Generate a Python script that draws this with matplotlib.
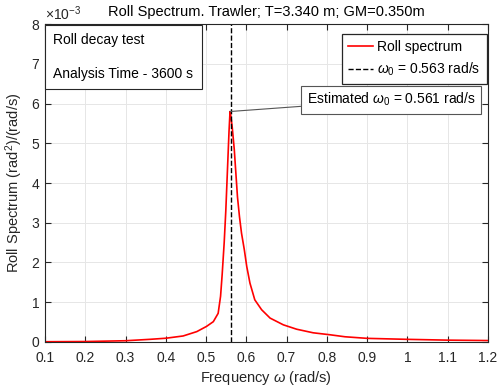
import numpy as np
import matplotlib
matplotlib.use('Agg')
import matplotlib.pyplot as plt
from matplotlib.ticker import ScalarFormatter, FixedLocator, FuncFormatter

# spectrum (values in units of 1e-3 rad^2/(rad/s))
freq = [0.10, 0.20, 0.30, 0.36, 0.40, 0.443, 0.477, 0.501, 0.518, 0.530, 0.536,
        0.540, 0.545, 0.549, 0.553, 0.557, 0.5595, 0.562, 0.565, 0.570, 0.574,
        0.578, 0.583, 0.588, 0.595, 0.601, 0.609, 0.621, 0.638, 0.659, 0.692,
        0.725, 0.766, 0.808, 0.845, 0.90, 1.00, 1.10, 1.20]
spec_e3 = [0.005, 0.01, 0.03, 0.065, 0.093, 0.15, 0.26, 0.39, 0.51, 0.72, 1.15,
           1.70, 2.50, 3.30, 4.30, 5.30, 5.80, 5.65, 5.40, 4.85, 4.25,
           3.65, 3.15, 2.74, 2.32, 1.90, 1.48, 1.06, 0.81, 0.60, 0.43,
           0.32, 0.23, 0.18, 0.13, 0.09, 0.065, 0.045, 0.035]
w0_theory = 0.563
w0_est = 0.561
peak_val = 5.80e-3
xticks = [0.1, 0.2, 0.3, 0.4, 0.5, 0.6, 0.7, 0.8, 0.9, 1.0, 1.1, 1.2]
yticks = [0, 1e-3, 2e-3, 3e-3, 4e-3, 5e-3, 6e-3, 7e-3, 8e-3]

plt.rcParams['font.family'] = ['Liberation Sans', 'DejaVu Sans']
plt.rcParams['font.size'] = 10
plt.rcParams['mathtext.fontset'] = 'custom'
plt.rcParams['mathtext.it'] = 'Liberation Sans:italic'
plt.rcParams['mathtext.rm'] = 'Liberation Sans'

fig = plt.figure(figsize=(5.03, 3.89), dpi=100)
ax = fig.add_axes([0.0895, 0.121, 0.8805, 0.817])

spec = np.array(spec_e3) * 1e-3
ax.plot(freq, spec, color='red', lw=1.2, label='Roll spectrum', solid_joinstyle='round')
ax.axvline(w0_theory, color='black', ls='--', lw=1.0, label=r'$\omega_0$ = 0.563 rad/s')

ax.set_xlim(0.1, 1.2)
ax.set_ylim(0, 8e-3)
ax.xaxis.set_major_locator(FixedLocator(xticks))
ax.xaxis.set_major_formatter(FuncFormatter(lambda v, p: f'{v:g}'))
ax.yaxis.set_major_locator(FixedLocator(yticks))
fmt = ScalarFormatter(useMathText=True)
fmt.set_powerlimits((-2, 2))
ax.yaxis.set_major_formatter(fmt)

edge = '#262626'
for s in ax.spines.values():
    s.set_color(edge)
    s.set_linewidth(0.8)
ax.tick_params(direction='in', length=4, colors=edge, labelcolor=edge, labelsize=10,
               top=True, right=True)
ax.tick_params(axis='x', pad=6.5)
ax.grid(True, color='#e6e6e6', lw=0.7)
ax.set_axisbelow(True)

ax.set_title('Roll Spectrum. Trawler; T=3.340 m; GM=0.350m', fontsize=10.5, color='black', pad=6)
ax.set_xlabel(r'Frequency $\omega$ (rad/s)', fontsize=10.5, color=edge, labelpad=3)
ax.set_ylabel(r'Roll Spectrum (rad$^2$)/(rad/s)', fontsize=10.5, color=edge)

leg = ax.legend(loc='upper right', bbox_to_anchor=(0.9977, 0.9686), borderaxespad=0,
                fancybox=False, framealpha=1, edgecolor=edge, fontsize=10,
                handlelength=1.8, handletextpad=0.3, borderpad=0.45, labelspacing=0.45)
leg.get_frame().set_linewidth(0.9)

ax.text(0.019, 0.972, 'Roll decay test\n\nAnalysis Time - 3600 s', transform=ax.transAxes,
        ha='left', va='top', fontsize=10, linespacing=1.25,
        bbox=dict(boxstyle='square,pad=0.6', fc='white', ec=edge, lw=0.8))

ax.annotate(r'Estimated $\omega_0$ = 0.561 rad/s', xy=(w0_est - 0.0015, peak_val),
            xytext=(0.591, 0.762), textcoords='axes fraction', ha='left', va='center',
            fontsize=10,
            bbox=dict(boxstyle='square,pad=0.4', fc='white', ec='#555555', lw=0.8),
            arrowprops=dict(arrowstyle='-', color='#555555', lw=0.8, shrinkA=0, shrinkB=0))

fig.savefig('out.png', dpi=100)
